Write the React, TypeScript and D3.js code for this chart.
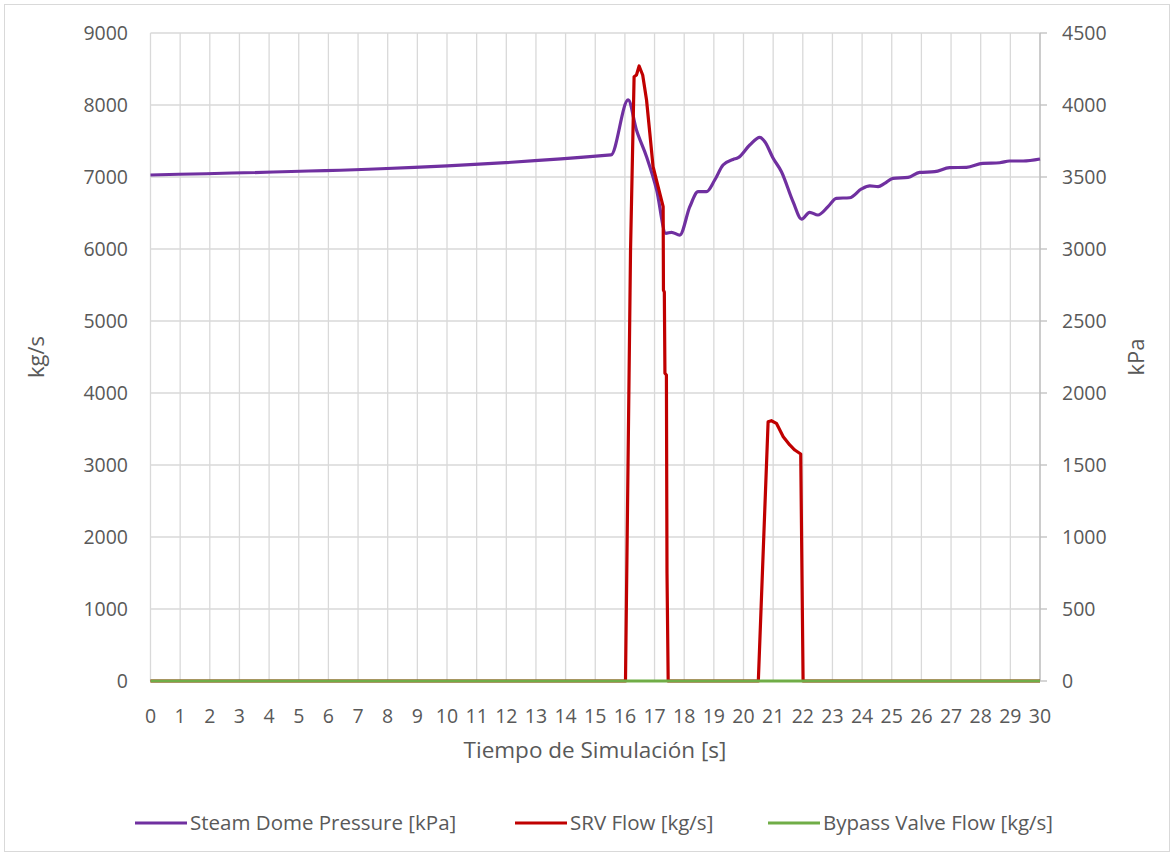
import React from "react";
import * as d3 from "d3";

const pressureTime = [0, 15.53, 16.11, 16.39, 16.73, 17.07, 17.38, 17.57, 17.85, 18.19, 18.47, 18.75, 19.03, 19.31, 19.65, 19.82, 20.21, 20.55, 20.72, 21.0, 21.28, 21.67, 21.96, 22.23, 22.51, 22.85, 23.13, 23.58, 23.98, 24.26, 24.54, 24.76, 25.04, 25.55, 25.94, 26.45, 26.95, 27.52, 28.07, 28.64, 28.97, 29.43, 30];
const pressureKPa = [3514, 3653, 4035, 3826, 3641, 3410, 3109, 3116, 3097, 3294, 3398, 3398, 3479, 3583, 3622, 3634, 3722, 3775, 3745, 3630, 3537, 3329, 3208, 3255, 3236, 3294, 3352, 3356, 3417, 3438, 3433, 3456, 3491, 3497, 3532, 3537, 3565, 3567, 3595, 3599, 3611, 3611, 3625];

const srvTime = [0, 16.02, 16.19, 16.31, 16.39, 16.48, 16.6, 16.73, 16.84, 16.95, 17.12, 17.29, 17.3, 17.33, 17.35, 17.4, 17.42, 17.46, 20.5, 20.83, 20.94, 21.11, 21.34, 21.56, 21.73, 21.93, 22.01, 30];
const srvFlow = [0, 0, 5986, 8393, 8417, 8542, 8417, 8069, 7611, 7143, 6865, 6588, 5430, 5400, 4274, 4250, 1496, 0, 0, 3601, 3615, 3579, 3393, 3278, 3208, 3153, 0, 0];

const bypassTime = [0, 30];
const bypassFlow = [0, 0];

const xTicks = d3.range(0, 31, 1);
const leftTicks = d3.range(0, 9001, 1000);
const rightTicks = d3.range(0, 4501, 500);

const seriesNames = ["Steam Dome Pressure [kPa]", "SRV Flow [kg/s]", "Bypass Valve Flow [kg/s]"];
const seriesColors = ["#7030A0", "#C00000", "#70AD47"];

const W = 1174, H = 856;
const L = 150.5, R = 1040, T = 33, B = 681;
const FONT = "'Open Sans', sans-serif";
const TXT = "#595959";
const GRID = "#D9D9D9";

export default function App() {
  const x = d3.scaleLinear().domain([0, 30]).range([L, R]);
  const yL = d3.scaleLinear().domain([0, 9000]).range([B, T]);
  const yR = d3.scaleLinear().domain([0, 4500]).range([B, T]);

  const lineP = d3.line<number>().x((_, i) => x(pressureTime[i])).y((d) => yR(d)).curve(d3.curveMonotoneX);
  const lineS = d3.line<number>().x((_, i) => x(srvTime[i])).y((d) => yL(d));
  const lineB = d3.line<number>().x((_, i) => x(bypassTime[i])).y((d) => yL(d));

  const legendX = [135, 515, 768];

  return (
    <div style={{ position: "absolute", left: 0, top: 0 }}>
      <svg width={W} height={H} style={{ display: "block", background: "#fff" }} fontFamily={FONT}>
        <rect x={4.5} y={4.5} width={1165} height={847} fill="#fff" stroke={GRID} />
        {leftTicks.map((t) => (
          <line key={"h" + t} x1={L} x2={R} y1={yL(t)} y2={yL(t)} stroke={GRID} strokeWidth={1.3} />
        ))}
        {xTicks.map((t) => (
          <line key={"v" + t} x1={x(t)} x2={x(t)} y1={T} y2={B} stroke={GRID} strokeWidth={1.3} />
        ))}
        <line x1={R} x2={R} y1={T} y2={B} stroke="#BFBFBF" strokeWidth={1.3} />
        {rightTicks.map((t) => (
          <line key={"rt" + t} x1={R} x2={R + 7} y1={yR(t)} y2={yR(t)} stroke="#BFBFBF" strokeWidth={1.3} />
        ))}
        {leftTicks.map((t) => (
          <text key={"lt" + t} x={128} y={yL(t)} dy="0.35em" textAnchor="end" fontSize={19.5} fill={TXT}>{t}</text>
        ))}
        {rightTicks.map((t) => (
          <text key={"rl" + t} x={1062} y={yR(t)} dy="0.35em" textAnchor="start" fontSize={19.5} fill={TXT}>{t}</text>
        ))}
        {xTicks.map((t) => (
          <text key={"xl" + t} x={x(t)} y={716} dy="0.35em" textAnchor="middle" fontSize={19.5} fill={TXT}>{t}</text>
        ))}
        <text x={595} y={750} dy="0.35em" textAnchor="middle" fontSize={22.5} fill={TXT}>Tiempo de Simulación [s]</text>
        <text transform={`translate(36,357) rotate(-90)`} textAnchor="middle" dy="0.35em" fontSize={22} fill={TXT}>kg/s</text>
        <text transform={`translate(1136,357) rotate(-90)`} textAnchor="middle" dy="0.35em" fontSize={22} fill={TXT}>kPa</text>

        <path d={lineP(pressureKPa) || ""} fill="none" stroke={seriesColors[0]} strokeWidth={3.2} strokeLinejoin="round" />
        <path d={lineS(srvFlow) || ""} fill="none" stroke={seriesColors[1]} strokeWidth={3.2} strokeLinejoin="round" />
        <path d={lineB(bypassFlow) || ""} fill="none" stroke={seriesColors[2]} strokeWidth={3.2} />

        {seriesNames.map((n, i) => (
          <g key={n}>
            <line x1={legendX[i]} x2={legendX[i] + 52} y1={823} y2={823} stroke={seriesColors[i]} strokeWidth={3.2} />
            <text x={legendX[i] + 55} y={823} dy="0.35em" fontSize={20.5} fill={TXT}>{n}</text>
          </g>
        ))}
      </svg>
    </div>
  );
}
